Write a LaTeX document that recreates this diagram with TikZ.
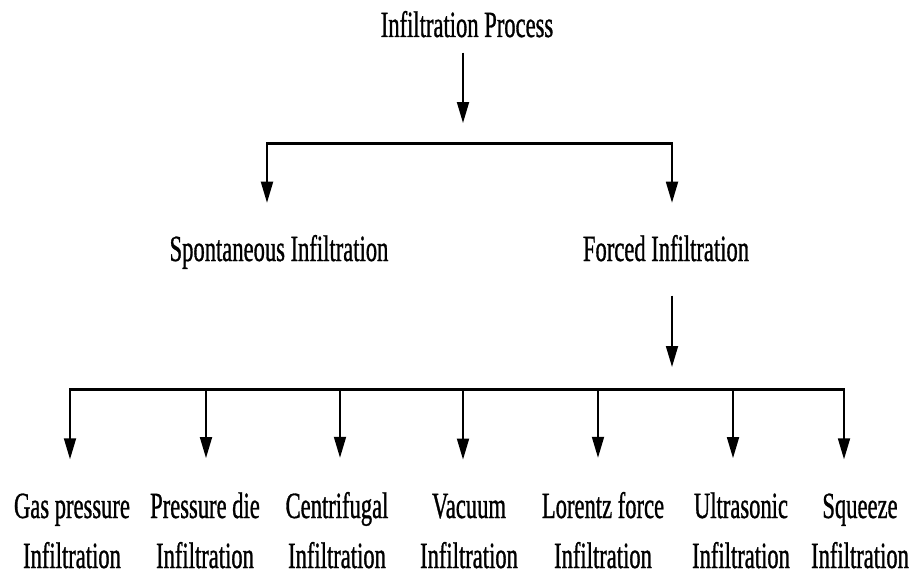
\documentclass[tikz,border=0pt]{standalone}
\usepackage{fontspec}
\setmainfont{Liberation Serif}[FakeStretch=0.61,FakeBold=0.8]
\usetikzlibrary{arrows.meta}
\begin{document}
\begin{tikzpicture}[x=1pt,y=-1pt,
  lbl/.style={font=\fontsize{37}{50}\selectfont, align=center, inner sep=3pt},
  arr/.style={line width=1.8pt, -{Triangle[length=21pt,width=12pt]}},
  bar/.style={line width=3pt, line cap=butt}]
\useasboundingbox[fill=white] (0,0) rectangle (913,578);
% nodes
\node[lbl, anchor=base] (title) at (467,37) {Infiltration Process};
\node[lbl, anchor=base] (sp) at (279,261) {Spontaneous Infiltration};
\node[lbl, anchor=base] (fo) at (666,261) {Forced Infiltration};
\node[lbl, anchor=base] (gas) at (72,568) {Gas pressure\\Infiltration};
\node[lbl, anchor=base] (die) at (205,568) {Pressure die\\Infiltration};
\node[lbl, anchor=base] (cen) at (337,568) {Centrifugal\\Infiltration};
\node[lbl, anchor=base] (vac) at (469,568) {Vacuum\\Infiltration};
\node[lbl, anchor=base] (lor) at (603,568) {Lorentz force\\Infiltration};
\node[lbl, anchor=base] (ult) at (741,568) {Ultrasonic\\Infiltration};
\node[lbl, anchor=base] (squ) at (860,568) {Squeeze\\Infiltration};
% junction coordinates
\coordinate (hubA) at (463,143);
\coordinate (LA) at (267,143);
\coordinate (RA) at (672,143);
\coordinate (hubB) at (672,389);
\coordinate (b1) at (70,389);
\coordinate (b2) at (206,389);
\coordinate (b3) at (340,389);
\coordinate (b4) at (463,389);
\coordinate (b5) at (598,389);
\coordinate (b6) at (733,389);
\coordinate (b7) at (844,389);
% top level
\draw[arr] ([yshift=-12pt]title.south -| hubA) -- ([yshift=20pt]hubA);
\draw[bar] ([xshift=-1pt]LA) -- ([xshift=1pt]RA);
\draw[arr, shorten >=29pt] (LA) -- (LA |- sp.north);
\draw[arr, shorten >=29pt] (RA) -- (RA |- fo.north);
% forced
\draw[arr] ([yshift=-31pt]fo.south -| hubB) -- ([yshift=22pt]hubB);
\draw[bar] ([xshift=-1pt]b1) -- ([xshift=1pt]b7);
\foreach \b/\n in {b1/gas,b2/die,b3/cen,b4/vac,b5/lor,b6/ult,b7/squ}
  \draw[arr, shorten >=31pt] (\b) -- (\b |- \n.north);
\end{tikzpicture}
\end{document}
